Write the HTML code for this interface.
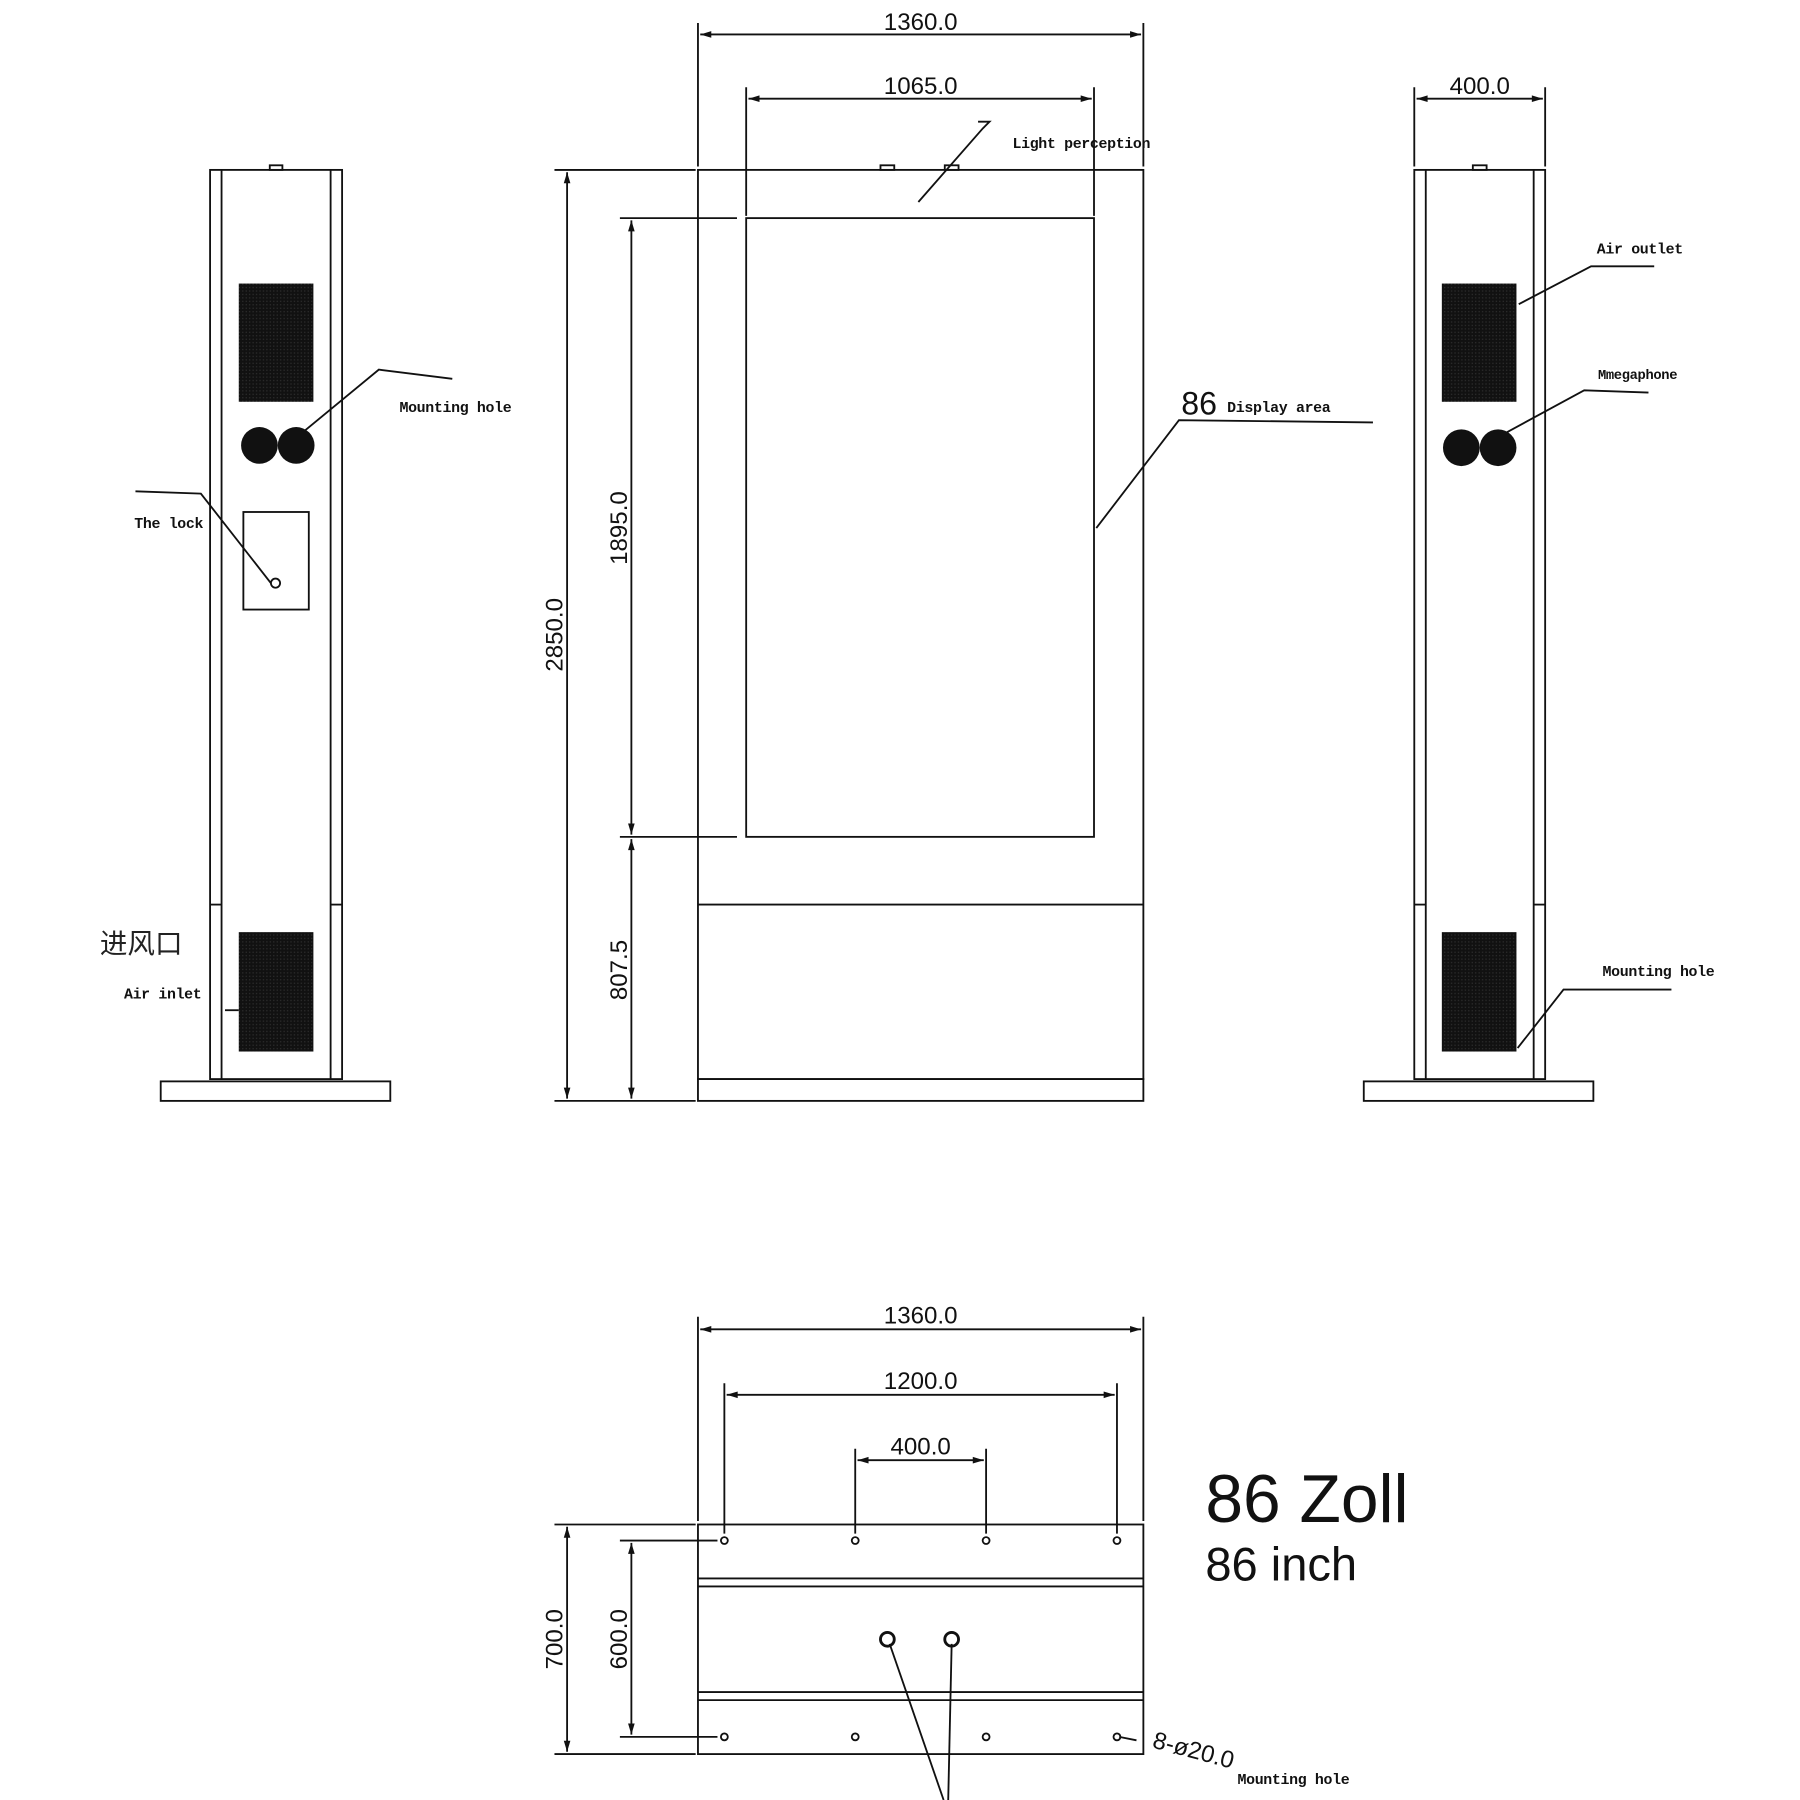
<!DOCTYPE html>
<html><head><meta charset="utf-8"><style>
html,body{margin:0;padding:0;background:#fff;}
svg{display:block}
.m{font-family:"Liberation Mono",monospace;font-size:13px;letter-spacing:-0.3px;fill:#111;font-weight:bold}
.d{font-family:"Liberation Sans",sans-serif;font-size:21px;fill:#111}
</style></head><body>
<svg width="1800" height="1800" viewBox="0 0 1568 1568" xmlns="http://www.w3.org/2000/svg">
<defs>
<pattern id="v" width="3" height="3" patternUnits="userSpaceOnUse"><rect width="3" height="3" fill="#111"/><rect x="1" y="1" width="1" height="1" fill="#333"/></pattern>
<marker id="a" viewBox="0 0 10 10" refX="10" refY="5" markerWidth="8" markerHeight="6" orient="auto-start-reverse"><path d="M0,2 L10,5 L0,8 z" fill="#111"/></marker>
</defs>
<g fill="none" stroke="#111" stroke-width="1.6">
<rect x="183" y="148" width="115" height="792"/>
<line x1="193" y1="148" x2="193" y2="940"/><line x1="288" y1="148" x2="288" y2="940"/>
<line x1="183" y1="788" x2="193" y2="788"/><line x1="288" y1="788" x2="298" y2="788"/>
<rect x="235" y="144" width="11" height="4"/>
<rect x="140" y="942" width="200" height="17"/>
<rect x="212" y="446" width="57" height="85"/>
<circle cx="240" cy="508" r="4"/>
<polyline points="262,378 330,322 394,330"/>
<polyline points="236,508 175,430 118,428"/>
<line x1="196" y1="880" x2="208" y2="880"/>
<rect x="608" y="148" width="388" height="792"/>
<rect x="608" y="940" width="388" height="19"/>
<rect x="650" y="190" width="303" height="539"/>
<line x1="608" y1="788" x2="996" y2="788"/>
<rect x="767" y="144" width="12" height="4"/><rect x="823" y="144" width="12" height="4"/>
<polyline points="800,176 856,112 862,106 852,106"/>
<polyline points="955,460 1027,366 1196,368"/>
<line x1="608" y1="20" x2="608" y2="145"/><line x1="996" y1="20" x2="996" y2="145"/>
<line x1="610" y1="30" x2="994" y2="30" marker-start="url(#a)" marker-end="url(#a)"/>
<line x1="650" y1="76" x2="650" y2="188"/><line x1="953" y1="76" x2="953" y2="188"/>
<line x1="652" y1="86" x2="951" y2="86" marker-start="url(#a)" marker-end="url(#a)"/>
<line x1="483" y1="148" x2="606" y2="148"/><line x1="483" y1="959" x2="606" y2="959"/>
<line x1="494" y1="150" x2="494" y2="957" marker-start="url(#a)" marker-end="url(#a)"/>
<line x1="540" y1="190" x2="642" y2="190"/><line x1="540" y1="729" x2="642" y2="729"/>
<line x1="550" y1="192" x2="550" y2="727" marker-start="url(#a)" marker-end="url(#a)"/>
<line x1="550" y1="731" x2="550" y2="957" marker-start="url(#a)" marker-end="url(#a)"/>
<rect x="1232" y="148" width="114" height="792"/>
<line x1="1242" y1="148" x2="1242" y2="940"/><line x1="1336" y1="148" x2="1336" y2="940"/>
<line x1="1232" y1="788" x2="1242" y2="788"/><line x1="1336" y1="788" x2="1346" y2="788"/>
<rect x="1283" y="144" width="12" height="4"/>
<rect x="1188" y="942" width="200" height="17"/>
<line x1="1232" y1="76" x2="1232" y2="145"/><line x1="1346" y1="76" x2="1346" y2="145"/>
<line x1="1234" y1="86" x2="1344" y2="86" marker-start="url(#a)" marker-end="url(#a)"/>
<polyline points="1323,265 1386,232 1441,232"/>
<polyline points="1310,378 1380,340 1436,342"/>
<polyline points="1322,913 1362,862 1456,862"/>
<rect x="608" y="1328" width="388" height="200"/>
<line x1="608" y1="1375" x2="996" y2="1375"/><line x1="608" y1="1382" x2="996" y2="1382"/>
<line x1="608" y1="1474" x2="996" y2="1474"/><line x1="608" y1="1481" x2="996" y2="1481"/>
<line x1="608" y1="1147" x2="608" y2="1325"/><line x1="996" y1="1147" x2="996" y2="1325"/>
<line x1="610" y1="1158" x2="994" y2="1158" marker-start="url(#a)" marker-end="url(#a)"/>
<line x1="631" y1="1205" x2="631" y2="1336"/><line x1="973" y1="1205" x2="973" y2="1336"/>
<line x1="633" y1="1215" x2="971" y2="1215" marker-start="url(#a)" marker-end="url(#a)"/>
<line x1="745" y1="1262" x2="745" y2="1336"/><line x1="859" y1="1262" x2="859" y2="1336"/>
<line x1="747" y1="1272" x2="857" y2="1272" marker-start="url(#a)" marker-end="url(#a)"/>
<line x1="483" y1="1328" x2="606" y2="1328"/><line x1="483" y1="1528" x2="606" y2="1528"/>
<line x1="494" y1="1330" x2="494" y2="1526" marker-start="url(#a)" marker-end="url(#a)"/>
<line x1="540" y1="1342" x2="625" y2="1342"/><line x1="540" y1="1513" x2="625" y2="1513"/>
<line x1="550" y1="1344" x2="550" y2="1511" marker-start="url(#a)" marker-end="url(#a)"/>
<circle cx="631" cy="1342" r="3"/><circle cx="745" cy="1342" r="3"/><circle cx="859" cy="1342" r="3"/><circle cx="973" cy="1342" r="3"/>
<circle cx="631" cy="1513" r="3"/><circle cx="745" cy="1513" r="3"/><circle cx="859" cy="1513" r="3"/><circle cx="973" cy="1513" r="3"/>
<circle cx="773" cy="1428" r="6" stroke-width="2.5"/><circle cx="829" cy="1428" r="6" stroke-width="2.5"/>
<line x1="775" y1="1432" x2="822" y2="1568"/><line x1="829" y1="1432" x2="826" y2="1568"/>
<line x1="975" y1="1513" x2="990" y2="1516"/>
</g>
<g fill="url(#v)">
<rect x="208" y="247" width="65" height="103"/><rect x="208" y="812" width="65" height="104"/>
<rect x="1256" y="247" width="65" height="103"/><rect x="1256" y="812" width="65" height="104"/>
</g>
<g fill="#111">
<circle cx="226" cy="388" r="16"/><circle cx="258" cy="388" r="16"/>
<circle cx="1273" cy="390" r="16"/><circle cx="1305" cy="390" r="16"/>
</g>
<g class="m">
<text x="348" y="359">Mounting hole</text>
<text x="117" y="460">The lock</text>
<text x="108" y="870">Air inlet</text>
<text x="882" y="129">Light perception</text>
<text x="1069" y="359">Display area</text>
<text x="1391" y="221">Air outlet</text>
<text x="1392" y="330" style="font-size:12px">Mmegaphone</text>
<text x="1396" y="850">Mounting hole</text>
<text x="1078" y="1554">Mounting hole</text>
</g>
<text x="87" y="830" style="font-family:'Noto Sans CJK SC',sans-serif;font-size:24px;fill:#222">进风口</text>
<text x="1029" y="361" class="d" style="font-size:28px">86</text>
<g class="d" text-anchor="middle">
<text x="802" y="26">1360.0</text>
<text x="802" y="82">1065.0</text>
<text x="1289" y="82">400.0</text>
<text x="802" y="1153">1360.0</text>
<text x="802" y="1210">1200.0</text>
<text x="802" y="1267">400.0</text>
<text transform="translate(490,553) rotate(-90)">2850.0</text>
<text transform="translate(546,460) rotate(-90)">1895.0</text>
<text transform="translate(546,845) rotate(-90)">807.5</text>
<text transform="translate(490,1428) rotate(-90)">700.0</text>
<text transform="translate(546,1428) rotate(-90)">600.0</text>
</g>
<text class="d" transform="translate(1003,1522) rotate(15)">8-ø20.0</text>
<text x="1050" y="1326" style="font-family:'Liberation Sans',sans-serif;font-size:59px;fill:#111">86 Zoll</text>
<text x="1050" y="1377" style="font-family:'Liberation Sans',sans-serif;font-size:41px;fill:#111">86 inch</text>
</svg>
</body></html>
